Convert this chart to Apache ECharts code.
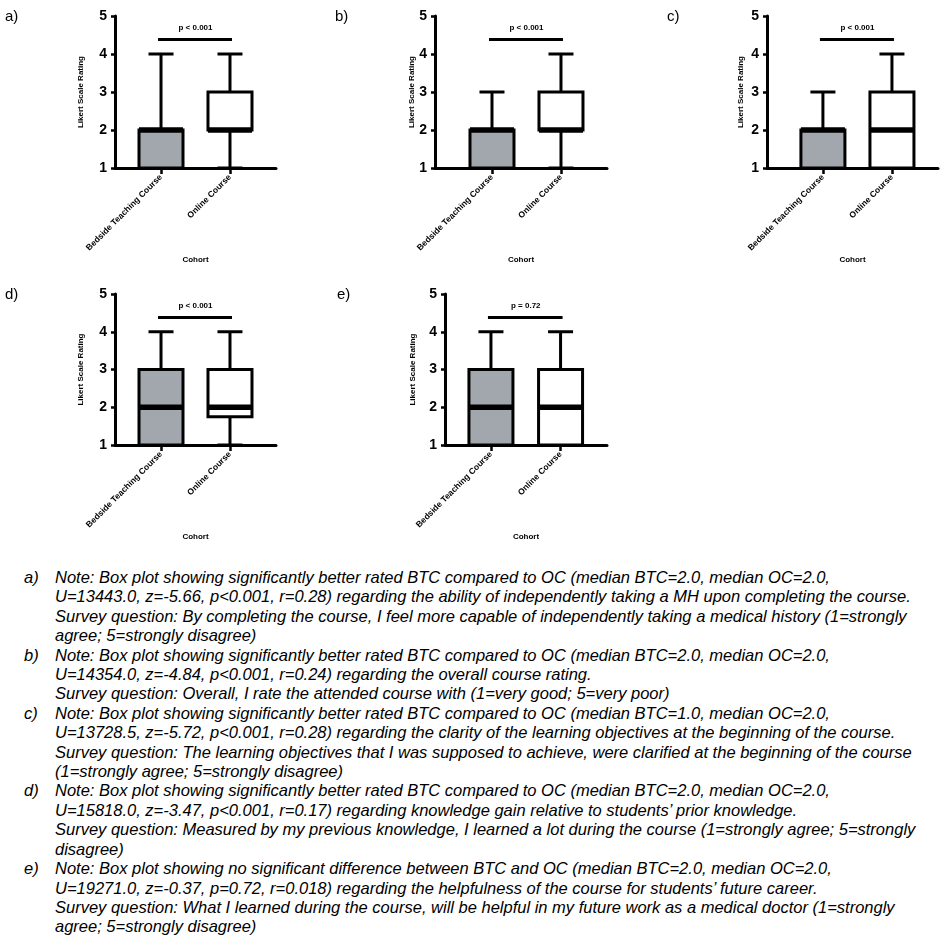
<!DOCTYPE html>
<html>
<head>
<meta charset="utf-8">
<title>Likert ratings BTC vs OC</title>
<script src="https://cdn.jsdelivr.net/npm/echarts@6/dist/echarts.min.js"></script>
<style>
body{margin:0;background:#fff;}
#chart{position:absolute;left:0;top:0;width:948px;height:560px;}
#notes{position:absolute;left:0;top:568px;width:948px;font-family:'Liberation Sans',Arial,sans-serif;font-style:italic;font-size:16.5px;line-height:19.4px;color:#000;}
.row{position:relative;padding-left:55px;white-space:nowrap;}
.tag{position:absolute;left:24px;top:0;}
</style>
</head>
<body>
<div id="chart"></div>
<div id="notes"></div>
<script>
var panelTags = ['a)', 'b)', 'c)', 'd)', 'e)'];
var categories = ['Bedside Teaching Course', 'Online Course'];
var yTicks = [1, 2, 3, 4, 5];
// min, Q1, median, Q3, max
var btcBoxes = [
	[1, 1, 2, 2, 4],
	[1, 1, 2, 2, 3],
	[1, 1, 2, 2, 3],
	[1, 1, 2, 3, 4],
	[1, 1, 2, 3, 4]
];
var ocBoxes = [
	[1, 2, 2, 3, 4],
	[1, 2, 2, 3, 4],
	[1, 1, 2, 3, 4],
	[1, 1.75, 2, 3, 4],
	[1, 1, 2, 3, 4]
];
var pLabels = ['p < 0.001', 'p < 0.001', 'p < 0.001', 'p < 0.001', 'p = 0.72'];
var pBarLevel = 4.38;
var noteLines = [
	['Note: Box plot showing significantly better rated BTC compared to OC (median BTC=2.0, median OC=2.0,',
	 'U=13443.0, z=-5.66, p<0.001, r=0.28) regarding the ability of independently taking a MH upon completing the course.',
	 'Survey question: By completing the course, I feel more capable of independently taking a medical history (1=strongly',
	 'agree; 5=strongly disagree)'],
	['Note: Box plot showing significantly better rated BTC compared to OC (median BTC=2.0, median OC=2.0,',
	 'U=14354.0, z=-4.84, p<0.001, r=0.24) regarding the overall course rating.',
	 'Survey question: Overall, I rate the attended course with (1=very good; 5=very poor)'],
	['Note: Box plot showing significantly better rated BTC compared to OC (median BTC=1.0, median OC=2.0,',
	 'U=13728.5, z=-5.72, p<0.001, r=0.28) regarding the clarity of the learning objectives at the beginning of the course.',
	 'Survey question: The learning objectives that I was supposed to achieve, were clarified at the beginning of the course',
	 '(1=strongly agree; 5=strongly disagree)'],
	['Note: Box plot showing significantly better rated BTC compared to OC (median BTC=2.0, median OC=2.0,',
	 'U=15818.0, z=-3.47, p<0.001, r=0.17) regarding knowledge gain relative to students\u2019 prior knowledge.',
	 'Survey question: Measured by my previous knowledge, I learned a lot during the course (1=strongly agree; 5=strongly',
	 'disagree)'],
	['Note: Box plot showing no significant difference between BTC and OC (median BTC=2.0, median OC=2.0,',
	 'U=19271.0, z=-0.37, p=0.72, r=0.018) regarding the helpfulness of the course for students\u2019 future career.',
	 'Survey question: What I learned during the course, will be helpful in my future work as a medical doctor (1=strongly',
	 'agree; 5=strongly disagree)']
];

// panel geometry (pixels)
var panels = [
	{left: 115, top: 16, width: 161, height: 152, xMin: -0.667, yGap: 30, tx: 5, ty: 18},
	{left: 435, top: 16, width: 172, height: 152, xMin: -0.826, yGap: 18, tx: 335, ty: 18},
	{left: 767, top: 16, width: 171, height: 152, xMin: -0.81, yGap: 22, tx: 667, ty: 18},
	{left: 115, top: 294, width: 161, height: 151, xMin: -0.667, yGap: 30, tx: 5, ty: 296},
	{left: 445, top: 294, width: 162, height: 151, xMin: -0.66, yGap: 28, tx: 337, ty: 296}
];
var boxFills = ['#a2a7ad', '#ffffff'];
var FONT = "'Liberation Sans', Arial, sans-serif";

var renderBox = function(params, api) {
	var x = api.value(0);
	var lo = api.coord([x, api.value(1)]);
	var q1 = api.coord([x, api.value(2)]);
	var md = api.coord([x, api.value(3)]);
	var q3 = api.coord([x, api.value(4)]);
	var hi = api.coord([x, api.value(5)]);
	var cx = lo[0], bw = 22, cw = 12.5;
	var line = function(x1, y1, x2, y2, w) {
		return {type: 'line', shape: {x1: x1, y1: y1, x2: x2, y2: y2}, style: {stroke: '#000', lineWidth: w}};
	};
	return {
		type: 'group',
		children: [
			line(cx, q3[1], cx, hi[1], 3),
			line(cx - cw, hi[1], cx + cw, hi[1], 3),
			line(cx, q1[1], cx, lo[1], 3),
			line(cx - cw, lo[1], cx + cw, lo[1], 3),
			{type: 'rect', shape: {x: cx - bw, y: q3[1], width: bw * 2, height: q1[1] - q3[1]},
				style: {fill: boxFills[x], stroke: '#000', lineWidth: 3}},
			line(cx - bw, md[1], cx + bw, md[1], 5.5)
		]
	};
};

var makeSig = function(label) {
	return function(params, api) {
		var a = api.coord([api.value(0), api.value(2)]);
		var b = api.coord([api.value(1), api.value(2)]);
		return {
			type: 'group',
			children: [
				{type: 'line', shape: {x1: a[0] - 3, y1: a[1], x2: b[0] + 2, y2: b[1]}, style: {stroke: '#000', lineWidth: 3}},
				{type: 'text', x: (a[0] + b[0]) / 2, y: a[1] - 12,
					style: {text: label, fill: '#000', font: 'bold 8px ' + FONT, align: 'center', verticalAlign: 'middle'}}
			]
		};
	};
};

var grid = [], xAxis = [], yAxis = [], series = [], graphic = [];
panels.forEach(function(p, i) {
	grid.push({left: p.left, top: p.top, width: p.width, height: p.height});
	xAxis.push({
		type: 'value', gridIndex: i, min: p.xMin, max: 1.667,
		name: 'Cohort', nameLocation: 'middle', nameGap: 86,
		nameTextStyle: {fontFamily: FONT, fontWeight: 'bold', fontSize: 8, color: '#000'},
		axisLine: {onZero: false, lineStyle: {color: '#000', width: 3}},
		axisTick: {customValues: [0, 1], length: 6, lineStyle: {color: '#000', width: 2.5}},
		axisLabel: {customValues: [0, 1], rotate: 45, margin: 8, fontFamily: FONT, fontWeight: 'bold', fontSize: 8.5, color: '#000',
			formatter: function(v) { return categories[Math.round(v)]; }},
		splitLine: {show: false}
	});
	yAxis.push({
		type: 'value', gridIndex: i, min: yTicks[0], max: yTicks[yTicks.length - 1], interval: 1,
		name: 'Likert Scale Rating', nameLocation: 'middle', nameGap: p.yGap, nameRotate: 90,
		nameTextStyle: {fontFamily: FONT, fontWeight: 'bold', fontSize: 8, color: '#000'},
		axisLine: {show: true, onZero: false, lineStyle: {color: '#000', width: 3}},
		axisTick: {show: true, length: 4, lineStyle: {color: '#000', width: 2.5}},
		axisLabel: {margin: 8, fontFamily: FONT, fontWeight: 'bold', fontSize: 14, color: '#000'},
		splitLine: {show: false}
	});
	series.push({
		type: 'custom', xAxisIndex: i, yAxisIndex: i, renderItem: renderBox,
		encode: {x: 0, y: [1, 2, 3, 4, 5]},
		data: [[0].concat(btcBoxes[i]), [1].concat(ocBoxes[i])]
	});
	series.push({
		type: 'custom', xAxisIndex: i, yAxisIndex: i, renderItem: makeSig(pLabels[i]),
		encode: {x: [0, 1], y: 2},
		data: [[0, 1, pBarLevel]]
	});
	graphic.push({type: 'text', left: p.tx, top: p.ty - 9,
		style: {text: panelTags[i], font: '15px ' + FONT, fill: '#000'}});
});

var myChart = echarts.init(document.getElementById('chart'));
myChart.setOption({
	animation: false,
	grid: grid,
	xAxis: xAxis,
	yAxis: yAxis,
	series: series,
	graphic: graphic
});

// notes below the figure
var notes = document.getElementById('notes');
noteLines.forEach(function(lines, i) {
	var row = document.createElement('div');
	row.className = 'row';
	var tag = document.createElement('span');
	tag.className = 'tag';
	tag.textContent = panelTags[i];
	row.appendChild(tag);
	lines.forEach(function(t) {
		var d = document.createElement('div');
		d.textContent = t;
		row.appendChild(d);
	});
	notes.appendChild(row);
});
</script>
</body>
</html>
